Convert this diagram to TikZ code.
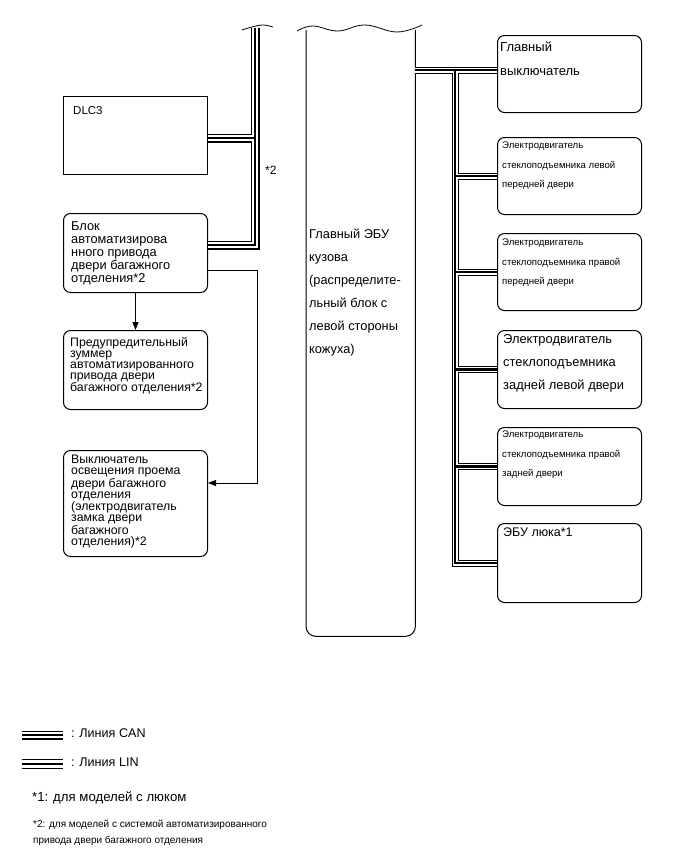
\documentclass[tikz,border=0pt]{standalone}
\usepackage{fontspec}
\setmainfont{Liberation Sans}
\usetikzlibrary{arrows.meta}
\begin{document}
\begin{tikzpicture}[x=1pt,y=-1pt,
  box/.style={draw, line width=1pt, minimum width=144pt, anchor=north west, inner sep=0pt},
  rbox/.style={box, rounded corners=7pt},
  txt/.style={anchor=north west, inner sep=0pt, align=left},
  lbl/.style={anchor=base west, inner sep=0pt},
  conn/.style={line width=1pt},
  arr/.style={conn, -{Triangle[length=8pt,width=6pt]}},
  fsmall/.style={font=\fontsize{9.6}{19.5}\selectfont},
]
\useasboundingbox (0,0) rectangle (689,854);

% left boxes
\node[box, minimum height=78pt] (dlc) at (63,96) {};
\node[txt, font=\fontsize{11.5}{13}\selectfont] (dlct) at (73,106) {DLC3};
\node[rbox, minimum height=79pt] (blk) at (63,213) {};
\node[txt, font=\fontsize{12.8}{13}\selectfont] (blkt) at (71,221) {Блок\\автоматизирова\\нного привода\\двери багажного\\отделения*2};
\node[rbox, minimum height=79pt] (buz) at (63,330) {};
\node[txt, font=\fontsize{12.3}{11}\selectfont] (buzt) at (70,337) {Предупредительный\\зуммер\\автоматизированного\\привода двери\\багажного отделения*2};
\node[rbox, minimum height=106pt] (sw) at (63,450) {};
\node[txt, font=\fontsize{12.3}{11}\selectfont] (swt) at (71,455) {Выключатель\\освещения проема\\двери багажного\\отделения\\(электродвигатель\\замка двери\\багажного\\отделения)*2};

% main ECU
\node[anchor=north west, inner sep=0pt, minimum width=109pt, minimum height=606pt] (ecu) at (306,30) {};
\draw[line width=1pt, rounded corners=10pt] (ecu.north west) -- (ecu.south west) -- (ecu.south east) -- (ecu.north east);
\draw[line width=0.8pt] plot[smooth, tension=0.7] coordinates {(297,31) (313,26) (338,31) (365,25) (397,32) (422,25)};
\node[txt, font=\fontsize{12.8}{23}\selectfont] (ecut) at (309,229) {Главный ЭБУ\\кузова\\(распределите-\\льный блок с\\левой стороны\\кожуха)};

% right boxes
\node[rbox, minimum height=77pt] (r1) at (497,35) {};
\node[txt, font=\fontsize{13}{24}\selectfont] (r1t) at (500,42) {Главный\\выключатель};
\node[rbox, minimum height=77pt] (r2) at (497,137) {};
\node[txt, fsmall] (r2t) at (502,142) {Электродвигатель\\стеклоподъемника левой\\передней двери};
\node[rbox, minimum height=77pt] (r3) at (497,233) {};
\node[txt, fsmall] (r3t) at (502,239) {Электродвигатель\\стеклоподъемника правой\\передней двери};
\node[rbox, minimum height=78pt] (r4) at (497,330) {};
\node[txt, font=\fontsize{12.9}{23}\selectfont] (r4t) at (503,334) {Электродвигатель\\стеклоподъемника\\задней левой двери};
\node[rbox, minimum height=78pt] (r5) at (497,427) {};
\node[txt, fsmall] (r5t) at (502,431) {Электродвигатель\\стеклоподъемника правой\\задней двери};
\node[rbox, minimum height=79pt] (r6) at (497,523) {};
\node[txt, font=\fontsize{12.5}{13}\selectfont] (r6t) at (503,528) {ЭБУ люка*1};

% CAN bus (left)
\coordinate (ct) at (255,28);
\coordinate (cb) at (255,245);
\coordinate (cj) at (255,138);
\foreach \w/\c in {9/black,6/white,1.2/black}{
  \draw[line width=\w pt, \c] (ct) -- (cb) -- (blk.east |- cb) (cj) -- (dlc.east |- cj);
}
\draw[line width=0.8pt] plot[smooth, tension=0.7] coordinates {(242,30) (252,27) (263,25) (273,27)};
\node[lbl, font=\fontsize{12}{13}\selectfont] (star2) at (265,174) {*2};

% LIN bus (right)
\coordinate (lj) at (455,70);
\coordinate (lb) at (lj |- r6.west);
\foreach \w/\c in {7/black,5/white,2.5/black}{
  \draw[line width=\w pt, \c] (ecu.east |- lj) -- (r1.west |- lj) (lj) -- (lb) -- (r6.west)
    (lj |- r2.west) -- (r2.west) (lj |- r3.west) -- (r3.west)
    (lj |- r4.west) -- (r4.west) (lj |- r5.west) -- (r5.west);
}

% arrows
\draw[arr] (blk.south) -- (buz.north);
\coordinate (p1) at (257,270);
\coordinate (p2) at (257,483);
\draw[arr] (blk.east |- p1) -- (p1) -- (p2) -- (sw.east |- p2);

% legend
\coordinate (cana) at (22,735);
\coordinate (canb) at (63,735);
\foreach \w/\c in {9/black,6/white,1.2/black}{
  \draw[line width=\w pt, \c] (cana) -- (canb);
}
\coordinate (lina) at (22,764);
\coordinate (linb) at (63,764);
\foreach \w/\c in {9.5/black,7.5/white,2.5/black}{
  \draw[line width=\w pt, \c] (lina) -- (linb);
}
\node[lbl, font=\fontsize{12.6}{13}\selectfont] (lcan) at (71,737) {: Линия CAN};
\node[lbl, font=\fontsize{12.6}{13}\selectfont] (llin) at (71,766) {: Линия LIN};
\node[lbl, font=\fontsize{13.2}{13}\selectfont] (n1) at (32,801) {*1: для моделей с люком};
\node[txt, font=\fontsize{10}{15.5}\selectfont] (n2) at (33,820) {*2: для моделей с системой автоматизированного\\привода двери багажного отделения};
\end{tikzpicture}
\end{document}
